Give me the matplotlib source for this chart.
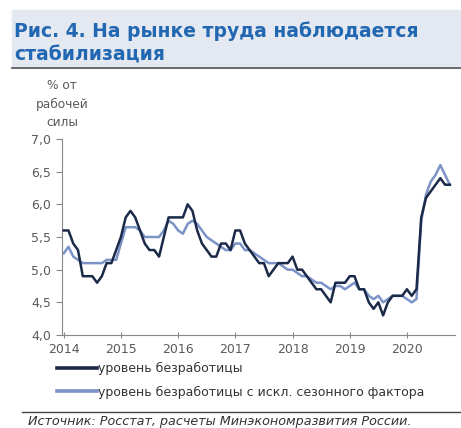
import matplotlib.pyplot as plt
import numpy as np
from matplotlib.patches import Rectangle
from matplotlib.lines import Line2D

plt.rcParams['font.family'] = ['DejaVu Sans']

# Уровень безработицы, % от рабочей силы, январь 2014 - октябрь 2020
unemp = [5.6, 5.6, 5.4, 5.3, 4.9, 4.9, 4.9, 4.8, 4.9, 5.1, 5.1, 5.3,
         5.5, 5.8, 5.9, 5.8, 5.6, 5.4, 5.3, 5.3, 5.2, 5.5, 5.8, 5.8,
         5.8, 5.8, 6.0, 5.9, 5.6, 5.4, 5.3, 5.2, 5.2, 5.4, 5.4, 5.3,
         5.6, 5.6, 5.4, 5.3, 5.2, 5.1, 5.1, 4.9, 5.0, 5.1, 5.1, 5.1,
         5.2, 5.0, 5.0, 4.9, 4.8, 4.7, 4.7, 4.6, 4.5, 4.8, 4.8, 4.8,
         4.9, 4.9, 4.7, 4.7, 4.5, 4.4, 4.5, 4.3, 4.5, 4.6, 4.6, 4.6,
         4.7, 4.6, 4.7, 5.8, 6.1, 6.2, 6.3, 6.4, 6.3, 6.3]

# с исключением сезонного фактора
unemp_sa = [5.25, 5.35, 5.2, 5.15, 5.1, 5.1, 5.1, 5.1, 5.1, 5.15, 5.15, 5.15,
            5.4, 5.65, 5.65, 5.65, 5.6, 5.5, 5.5, 5.5, 5.5, 5.6, 5.75, 5.7,
            5.6, 5.55, 5.7, 5.75, 5.7, 5.6, 5.5, 5.45, 5.4, 5.35, 5.3, 5.3,
            5.4, 5.4, 5.3, 5.3, 5.25, 5.2, 5.15, 5.1, 5.1, 5.1, 5.05, 5.0,
            5.0, 4.95, 4.9, 4.9, 4.85, 4.8, 4.8, 4.75, 4.7, 4.75, 4.75, 4.7,
            4.75, 4.8, 4.7, 4.7, 4.6, 4.55, 4.6, 4.5, 4.55, 4.6, 4.6, 4.6,
            4.55, 4.5, 4.55, 5.75, 6.15, 6.35, 6.45, 6.6, 6.45, 6.3]

years = [2014, 2015, 2016, 2017, 2018, 2019, 2020]
yticks = [4.0, 4.5, 5.0, 5.5, 6.0, 6.5, 7.0]

t = 2014 + np.arange(len(unemp)) / 12

dark = '#1b2a48'
light = '#7b93c6'
grey = '#5a5a5a'

fig = plt.figure(figsize=(4.61, 4.28), dpi=100)

# шапка с заголовком
fig.patches.append(Rectangle((12 / 461, 1 - 68 / 428), 1, 58 / 428,
                             transform=fig.transFigure, color='#e3e8f1', zorder=0))
fig.lines.append(Line2D([12 / 461, 1], [1 - 68 / 428, 1 - 68 / 428],
                        transform=fig.transFigure, color='#555555', lw=1.2))
fig.text(14 / 461, 1 - 43 / 428, 'Рис. 4. На рынке труда наблюдается\nстабилизация',
         fontsize=13.5, fontweight='bold', color='#2267b2', va='center',
         linespacing=1.25)

ax = fig.add_axes([62 / 461, 1 - 335 / 428, 393 / 461, 196 / 428])
ax.plot(t, unemp_sa, color=light, lw=1.8, zorder=2)
ax.plot(t, unemp, color=dark, lw=1.8, zorder=3)

ax.set_ylim(4.0, 7.0)
ax.set_xlim(2013.97, 2020.84)
ax.set_yticks(yticks)
ax.set_yticklabels([f'{v:.1f}'.replace('.', ',') for v in yticks])
ax.set_xticks(years)
ax.set_xticklabels([str(y) for y in years])

for side in ['top', 'right']:
    ax.spines[side].set_visible(False)
for side in ['left', 'bottom']:
    ax.spines[side].set_color('#888888')
ax.tick_params(axis='y', direction='out', length=4, color='#888888',
               labelsize=9, labelcolor=grey, pad=4)
ax.tick_params(axis='x', direction='inout', length=5, color='#888888',
               labelsize=9, labelcolor=grey, pad=3)

fig.text(62 / 461, 1 - 104 / 428, '% от\nрабочей\nсилы', fontsize=8.7,
         color=grey, ha='center', va='center', linespacing=1.55)

# легенда
handles = [Line2D([], [], color=dark, lw=2.6),
           Line2D([], [], color=light, lw=2.6)]
fig.legend(handles, ['уровень безработицы',
                     'уровень безработицы с искл. сезонного фактора'],
           loc='upper left', bbox_to_anchor=(57 / 461, 1 - 362 / 428),
           frameon=False, fontsize=9.0, handlelength=3.2, handletextpad=0.1,
           labelspacing=0.85, labelcolor='#333333', borderaxespad=0,
           borderpad=0)

# подвал с источником
fig.lines.append(Line2D([22 / 461, 1], [1 - 412 / 428, 1 - 412 / 428],
                        transform=fig.transFigure, color='#444444', lw=1.0))
fig.text(28 / 461, 1 - 421 / 428,
         'Источник: Росстат, расчеты Минэкономразвития России.',
         fontsize=9.2, style='italic', color='#333333', va='center')

fig.savefig('out.png', dpi=100)
